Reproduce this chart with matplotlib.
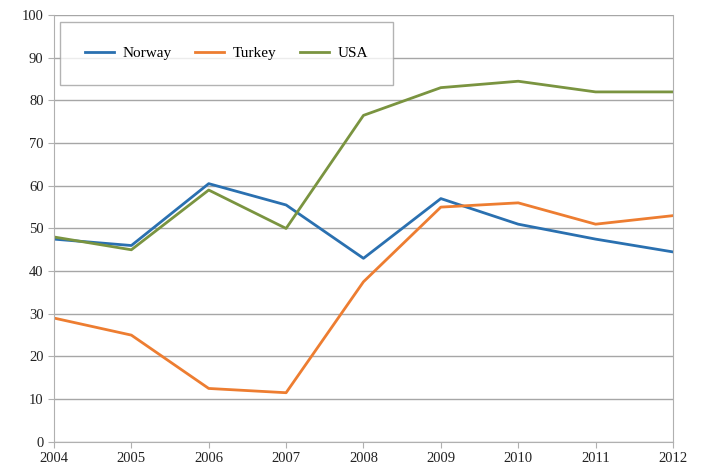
import matplotlib.pyplot as plt

years = [2004, 2005, 2006, 2007, 2008, 2009, 2010, 2011, 2012]
norway = [47.5, 46, 60.5, 55.5, 43, 57, 51, 47.5, 44.5]
turkey = [29, 25, 12.5, 11.5, 37.5, 55, 56, 51, 53]
usa = [48, 45, 59, 50, 76.5, 83, 84.5, 82, 82]

plt.rcParams['font.family'] = ['Liberation Serif', 'DejaVu Serif']

fig = plt.figure(figsize=(7.01, 4.72), dpi=100)
ax = fig.add_axes([0.077, 0.064, 0.883, 0.904])

ax.plot(years, norway, color='#2a70b0', lw=2.0, label='Norway')
ax.plot(years, turkey, color='#ed7d31', lw=2.0, label='Turkey')
ax.plot(years, usa, color='#7a9440', lw=2.0, label='USA')

ax.set_xlim(2004, 2012)
ax.set_ylim(0, 100)
ax.set_xticks(years)
ax.set_yticks(range(0, 101, 10))
ax.yaxis.grid(True, color='#a6a6a6', lw=1.0)
ax.set_axisbelow(True)

for side in ['left', 'bottom', 'right']:
    ax.spines[side].set_color('#b0b0b0')
ax.spines['top'].set_visible(False)
ax.tick_params(axis='both', colors='#b0b0b0', labelcolor='#222222',
               labelsize=10.5, length=4)
ax.tick_params(axis='x', pad=3)

# legend box sits in the top-left corner of the plot area
leg = ax.legend(loc='upper left', ncol=3, fontsize=11, frameon=True,
                fancybox=False, edgecolor='#a0a0a0', borderpad=1.6,
                handlelength=1.9, handletextpad=0.6, columnspacing=1.5,
                borderaxespad=0, bbox_to_anchor=(0.01, 0.984))
leg.get_frame().set_linewidth(1.0)

fig.savefig('out.png', dpi=100)
